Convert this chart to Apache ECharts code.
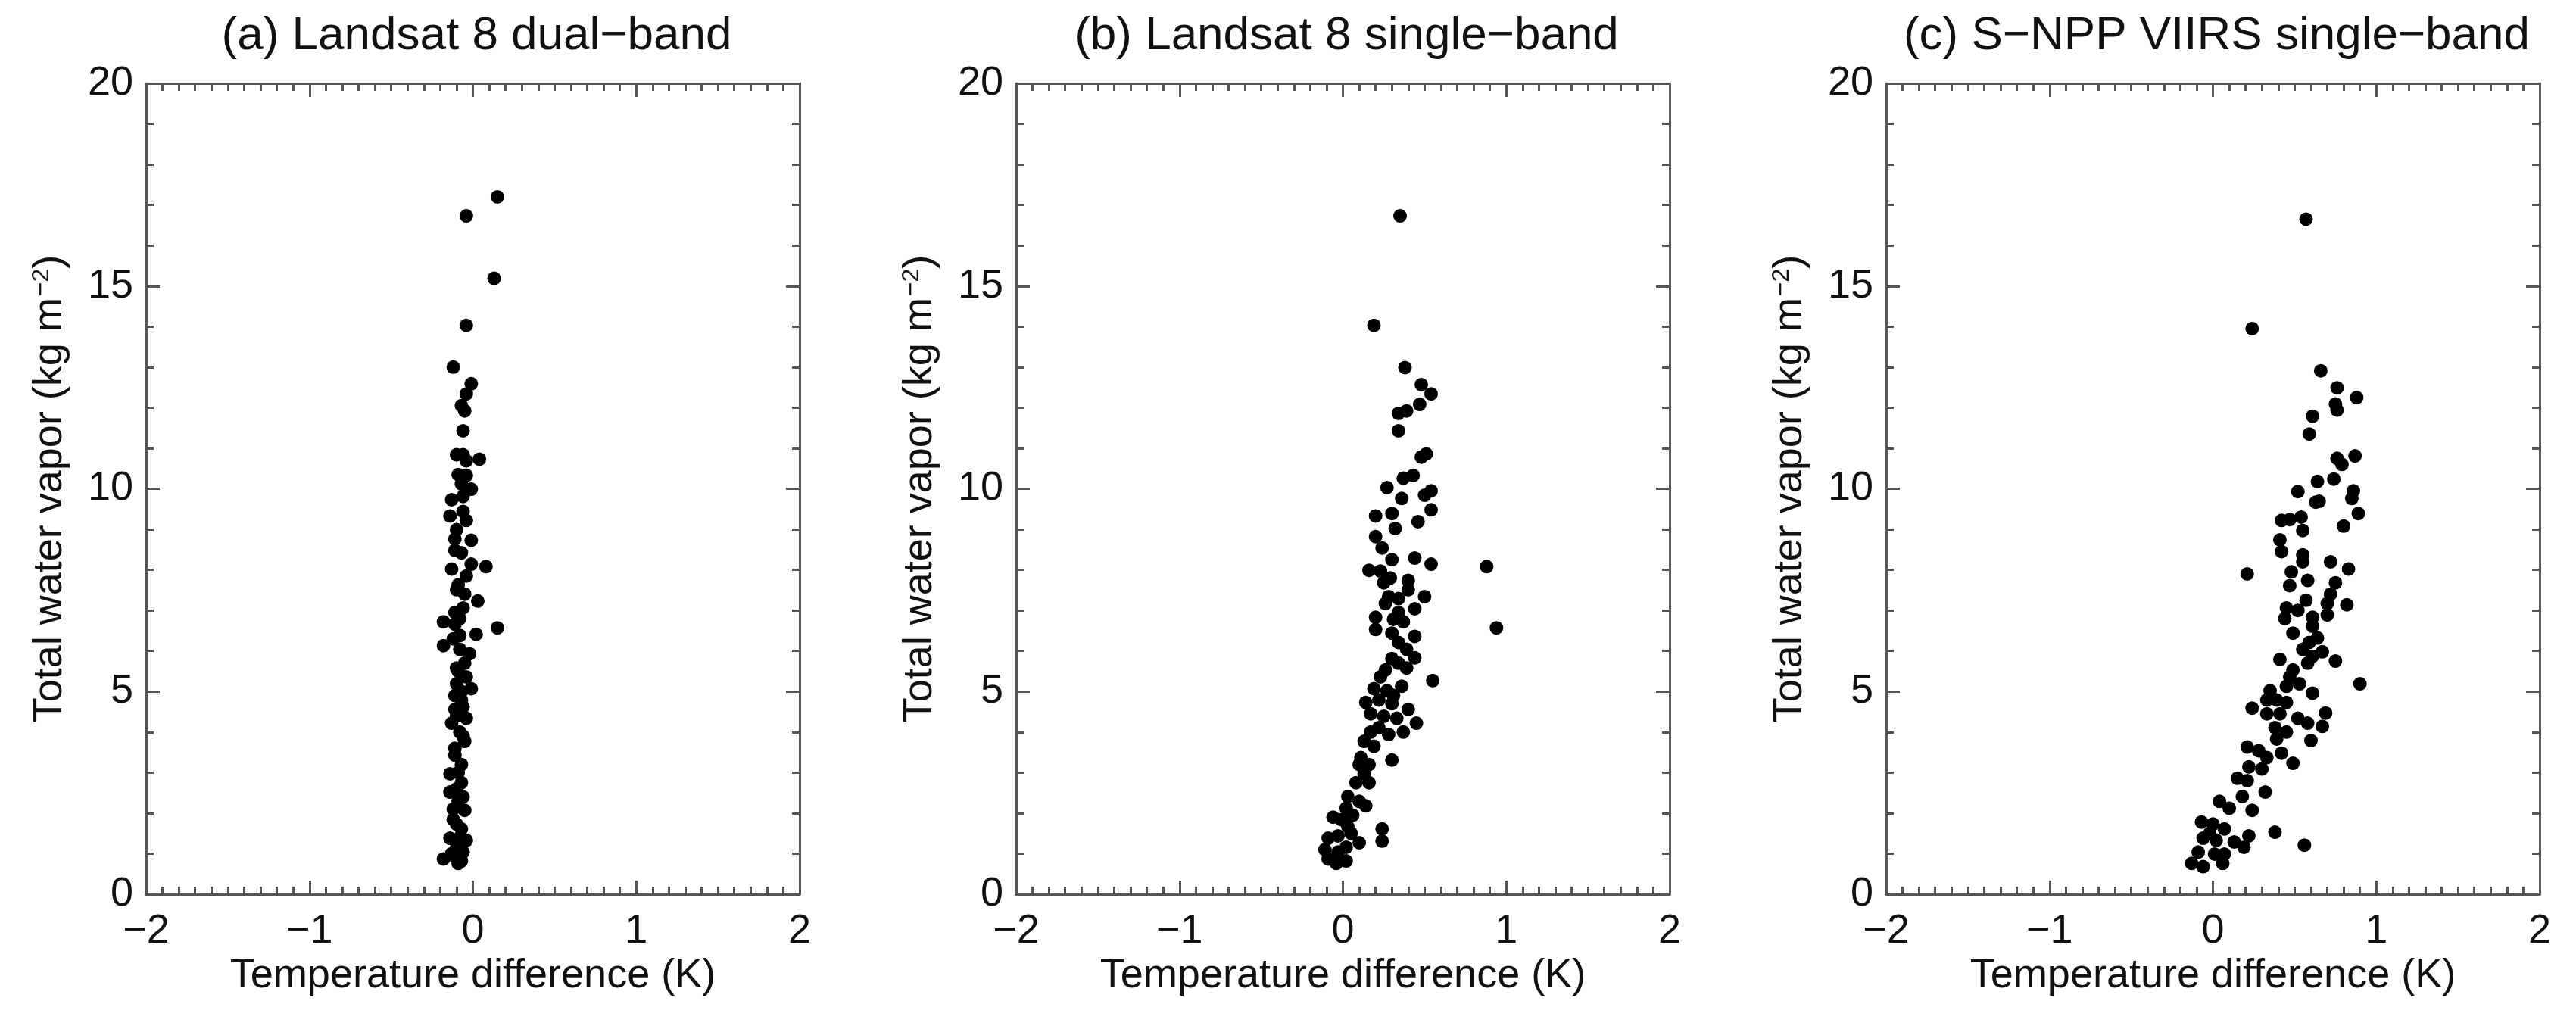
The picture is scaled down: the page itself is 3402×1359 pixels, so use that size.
<!DOCTYPE html>
<html><head><meta charset="utf-8">
<script src="https://cdn.jsdelivr.net/npm/echarts@6/dist/echarts.min.js"></script>
<style>html,body{margin:0;padding:0;background:#fff}#c{width:3402px;height:1359px}</style>
</head><body><div id="c"></div>
<script>
const titles = ['(a) Landsat 8 dual\u2212band', '(b) Landsat 8 single\u2212band', '(c) S\u2212NPP VIIRS single\u2212band'];
const xTicks = [-2, -1, 0, 1, 2];
const yTicks = [0, 5, 10, 15, 20];
const dualBand = [[0.15,17.2],[-0.04,16.73],[0.13,15.19],[-0.04,14.03],[-0.12,13.0],[-0.01,12.59],[-0.04,12.34],[-0.07,12.05],[-0.05,11.92],[-0.06,11.43],[-0.10,10.84],[-0.06,10.84],[-0.04,10.69],[0.04,10.73],[-0.09,10.35],[-0.04,10.33],[-0.01,9.99],[-0.13,9.73],[-0.06,9.81],[-0.14,9.33],[-0.06,9.44],[-0.10,8.99],[-0.01,8.73],[-0.11,8.48],[-0.07,8.42],[-0.01,8.14],[0.08,8.08],[-0.13,8.02],[-0.04,7.85],[-0.10,7.51],[-0.05,7.40],[0.03,7.23],[-0.18,6.72],[-0.11,6.66],[0.15,6.57],[0.02,6.41],[-0.18,6.13],[-0.08,6.38],[-0.02,5.93],[-0.10,5.58],[-0.04,5.36],[-0.10,5.19],[-0.01,5.07],[-0.07,4.79],[-0.11,4.56],[-0.04,4.34],[-0.13,4.22],[-0.08,4.0],[-0.05,3.77],[-0.11,3.43],[-0.07,3.2],[-0.14,2.97],[-0.07,2.75],[-0.14,2.52],[-0.09,2.29],[-0.05,2.07],[-0.12,1.84],[-0.07,1.61],[-0.04,1.33],[-0.14,1.38],[-0.10,1.16],[-0.18,0.87],[-0.09,0.76],[-0.06,1.04],[-0.11,0.93],[-0.08,6.04],[-0.05,5.70],[-0.11,4.90],[-0.06,4.62],[-0.10,1.73],[-0.07,0.82],[-0.11,6.95],[-0.06,7.06],[-0.09,7.63],[-0.04,9.22],[-0.07,10.12],[-0.11,8.76],[-0.09,3.0],[-0.11,3.6],[-0.06,3.9],[-0.12,2.1],[-0.08,1.4],[-0.10,4.4],[-0.07,5.0],[-0.09,5.5],[-0.12,6.3],[-0.08,6.8],[-0.06,2.4],[-0.10,2.6],[-0.13,1.0]];
const landsatSingle = [[0.35,16.73],[0.19,14.03],[0.38,12.99],[0.48,12.57],[0.54,12.34],[0.47,12.08],[0.34,11.86],[0.39,11.92],[0.34,11.43],[0.48,10.78],[0.51,10.86],[0.37,10.26],[0.43,10.33],[0.27,10.03],[0.36,9.76],[0.50,9.84],[0.54,9.95],[0.54,9.48],[0.20,9.33],[0.30,9.39],[0.46,9.19],[0.32,9.02],[0.20,8.82],[0.24,8.54],[0.30,8.25],[0.44,8.29],[0.54,8.14],[0.88,8.08],[0.16,7.99],[0.23,7.97],[0.29,7.80],[0.40,7.74],[0.25,7.68],[0.40,7.51],[0.28,7.34],[0.34,7.29],[0.50,7.34],[0.26,7.17],[0.44,7.04],[0.20,6.83],[0.31,6.78],[0.37,6.72],[0.20,6.53],[0.94,6.57],[0.30,6.44],[0.44,6.36],[0.34,6.21],[0.39,6.04],[0.44,5.83],[0.30,5.81],[0.34,5.70],[0.26,5.53],[0.55,5.27],[0.23,5.36],[0.36,5.13],[0.19,5.07],[0.27,5.02],[0.14,4.73],[0.22,4.79],[0.30,4.70],[0.40,4.56],[0.17,4.45],[0.25,4.39],[0.33,4.34],[0.45,4.22],[0.22,4.11],[0.37,4.00],[0.28,3.94],[0.13,3.77],[0.19,3.65],[0.11,3.37],[0.30,3.31],[0.16,3.20],[0.10,3.20],[0.13,2.97],[0.08,2.75],[0.16,2.75],[0.03,2.41],[0.10,2.29],[0.14,2.18],[0.02,2.12],[0.06,1.95],[-0.06,1.90],[-0.01,1.84],[0.03,1.67],[0.24,1.61],[0.10,1.27],[0.24,1.31],[-0.09,1.38],[-0.03,1.44],[-0.11,1.10],[0.02,1.16],[-0.09,0.87],[-0.04,0.76],[0.02,0.82],[-0.03,1.04],[0.05,1.50],[0.17,4.00],[0.31,4.90],[0.39,5.58],[0.34,6.95]];
const viirsSingle = [[0.57,16.65],[0.24,13.95],[0.66,12.91],[0.76,12.49],[0.88,12.25],[0.75,12.09],[0.76,11.94],[0.61,11.79],[0.59,11.35],[0.76,10.75],[0.79,10.60],[0.87,10.81],[0.64,10.18],[0.74,10.24],[0.52,9.93],[0.86,9.95],[0.85,9.76],[0.63,9.67],[0.65,9.69],[0.89,9.39],[0.42,9.22],[0.47,9.24],[0.54,9.30],[0.55,8.97],[0.80,9.08],[0.41,8.74],[0.42,8.45],[0.55,8.37],[0.55,8.20],[0.72,8.20],[0.48,7.95],[0.21,7.90],[0.83,8.02],[0.58,7.74],[0.75,7.68],[0.47,7.61],[0.57,7.25],[0.72,7.40],[0.70,7.17],[0.82,7.14],[0.45,7.06],[0.52,7.00],[0.44,6.80],[0.70,6.89],[0.61,6.83],[0.61,6.61],[0.49,6.44],[0.64,6.32],[0.59,6.21],[0.55,6.04],[0.67,5.98],[0.61,5.87],[0.75,5.75],[0.41,5.79],[0.49,5.53],[0.58,5.70],[0.90,5.19],[0.47,5.36],[0.53,5.19],[0.45,5.13],[0.61,4.96],[0.35,5.02],[0.33,4.79],[0.39,4.79],[0.45,4.73],[0.24,4.59],[0.33,4.45],[0.41,4.45],[0.52,4.34],[0.69,4.47],[0.58,4.22],[0.67,4.14],[0.38,4.11],[0.45,4.00],[0.60,3.79],[0.39,3.83],[0.21,3.63],[0.28,3.54],[0.42,3.48],[0.33,3.37],[0.49,3.23],[0.22,3.14],[0.30,3.09],[0.15,2.86],[0.21,2.80],[0.32,2.52],[0.04,2.29],[0.10,2.12],[0.18,2.41],[0.24,2.07],[-0.07,1.78],[0.00,1.73],[0.07,1.61],[0.38,1.53],[-0.06,1.38],[0.02,1.33],[0.13,1.29],[0.22,1.44],[0.19,1.16],[0.56,1.21],[-0.09,1.04],[0.01,0.99],[0.07,0.99],[-0.13,0.76],[-0.06,0.68],[0.06,0.76],[-0.02,1.50]];
const seriesData = [dualBand, landsatSingle, viirsSingle];

const FONT = 'Liberation Sans';
const AX = '#555';
const lefts = [193, 1342, 2491];
const W = 863, TOP = 110, H = 1071;
const fmt = v => String(v).replace('-', '\u2212');

const grid = [], xAxis = [], yAxis = [], series = [], title = [];
lefts.forEach((l, i) => {
  grid.push({left: l, top: TOP, width: W, height: H});
  title.push({text: titles[i], left: l + W / 2, top: 12, textAlign: 'center',
    textStyle: {fontFamily: FONT, fontSize: 62, fontWeight: 'normal', color: '#111'}});
  const common = {type: 'value', gridIndex: i, splitLine: {show: false},
    axisLine: {show: true, onZero: false, lineStyle: {color: AX, width: 3}},
    axisTick: {show: true, inside: true, length: 18, lineStyle: {color: AX, width: 3}},
    minorTick: {show: true, lineStyle: {color: AX, width: 3}}};
  xAxis.push(Object.assign({}, common, {position: 'bottom', min: xTicks[0], max: xTicks[xTicks.length-1], interval: 1,
    minorTick: Object.assign({}, common.minorTick, {splitNumber: 10, length: 10}),
    axisLabel: {margin: 22, fontFamily: FONT, fontSize: 54, color: '#111', formatter: fmt},
    name: 'Temperature difference (K)', nameLocation: 'middle', nameGap: 80,
    nameTextStyle: {fontFamily: FONT, fontSize: 54, color: '#111'}}));
  xAxis.push(Object.assign({}, common, {position: 'top', min: xTicks[0], max: xTicks[xTicks.length-1], interval: 1,
    minorTick: Object.assign({}, common.minorTick, {splitNumber: 10, length: 10}),
    axisLabel: {show: false}}));
  yAxis.push(Object.assign({}, common, {position: 'left', min: yTicks[0], max: yTicks[yTicks.length-1], interval: 5,
    minorTick: Object.assign({}, common.minorTick, {splitNumber: 5, length: 10}),
    axisLabel: {margin: 17, fontFamily: FONT, fontSize: 54, color: '#111', formatter: fmt},
    name: 'Total water vapor (kg m{sup|\u22122})', nameLocation: 'middle', nameGap: 100, nameRotate: 90,
    nameTextStyle: {fontFamily: FONT, fontSize: 54, color: '#111',
      rich: {sup: {fontFamily: FONT, fontSize: 32, color: '#111', verticalAlign: 'top', padding: [0, 0, 22, 2]}}}}));
  yAxis.push(Object.assign({}, common, {position: 'right', min: yTicks[0], max: yTicks[yTicks.length-1], interval: 5,
    minorTick: Object.assign({}, common.minorTick, {splitNumber: 5, length: 10}),
    axisLabel: {show: false}}));
  series.push({type: 'scatter', xAxisIndex: 2*i, yAxisIndex: 2*i, data: seriesData[i],
    symbol: 'circle', symbolSize: 18, itemStyle: {color: '#000', opacity: 1}, silent: true});
});

const chart = echarts.init(document.getElementById('c'), null, {renderer: 'canvas'});
chart.setOption({animation: false, backgroundColor: '#fff', title, grid, xAxis, yAxis, series});
</script></body></html>
